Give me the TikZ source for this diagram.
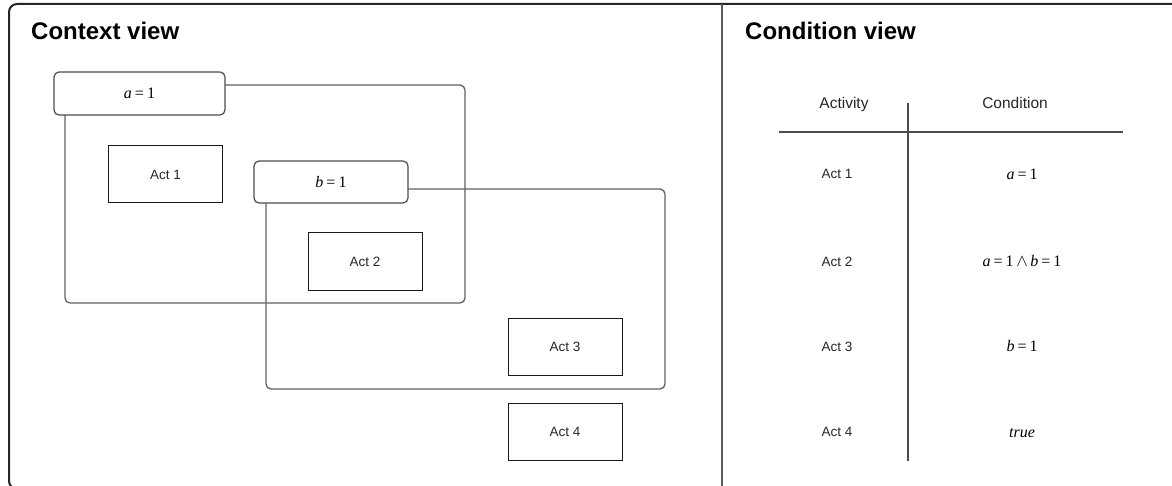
\documentclass[tikz,border=0pt]{standalone}
\usepackage{fontspec}
\setmainfont{Liberation Serif}
\setsansfont{Liberation Sans}

\newcommand\titlefont{\sffamily\bfseries\fontsize{24}{28}\selectfont}
\newcommand\actfont{\sffamily\fontsize{13.5}{16}\selectfont}
\newcommand\headfont{\sffamily\fontsize{15.5}{18}\selectfont}
\newcommand\cndfont{\rmfamily\fontsize{16}{18}\selectfont}
% a condition such as  a = 1
\newcommand\eqone[1]{\textit{#1}\kern3pt=\kern3pt1}

\begin{document}
\begin{tikzpicture}[x=1pt,y=-1pt,
  frame/.style={draw=black!85, line width=2pt, rounded corners=8pt},
  divider/.style={draw=black!65, line width=2pt},
  region/.style={draw=black!62, line width=1.3pt, rounded corners=5pt, inner sep=0pt},
  condlabel/.style={draw=black!70, line width=1.2pt, fill=white, rounded corners=5pt,
    inner sep=0pt, font=\cndfont},
  actbox/.style={draw=black!90, line width=1pt, minimum width=114pt, minimum height=57pt,
    inner sep=0pt, font=\actfont, text=black!85},
  title/.style={anchor=base west, inner sep=0pt, font=\titlefont},
  head/.style={anchor=base, inner sep=0pt, font=\headfont, text=black!85},
  cell/.style={anchor=base, inner sep=0pt, font=\actfont, text=black!85},
  cond/.style={anchor=base, inner sep=0pt, font=\cndfont},
  rule/.style={draw=black!70, line width=1.2pt}
]
\useasboundingbox (0,0) rectangle (1172,486);

% outer frame, running past the right and bottom edges
\begin{scope}
  \clip (0,0) rectangle (1172,486);
  \draw[frame] (9,4) rectangle (1200,489);
\end{scope}
\coordinate (divtop) at (722,4);
\coordinate (divbot) at (722,486);
\draw[divider] (divtop) -- (divbot);

% ---------------- context view ----------------
\node[title] (ctxtitle) at (31,40) {Context view};

\node[region, minimum width=400pt, minimum height=218pt] (regA) at (265,194) {};
\node[region, minimum width=399pt, minimum height=200pt] (regB) at (465.5,289) {};

\node[condlabel, minimum width=171pt, minimum height=43pt] (labA) at (139.5,93.5) {\eqone{a}};
\node[condlabel, minimum width=154pt, minimum height=42pt] (labB) at (331,182) {\eqone{b}};

\node[actbox] (act1) at (165.5,174.5) {Act 1};
\node[actbox] (act2) at (365,261.5) {Act 2};
\node[actbox] (act3) at (565,346.5) {Act 3};
\node[actbox] (act4) at (565,432) {Act 4};

% ---------------- condition view ----------------
\node[title] (cndtitle) at (745,40) {Condition view};

\node[head] (hAct) at (844,109) {Activity};
\node[head] (hCnd) at (1015,109) {Condition};

\coordinate (hl) at (779,132);
\coordinate (hr) at (1123,132);
\coordinate (vt) at (908,103);
\coordinate (vb) at (908,461);
\draw[rule] (hl) -- (hr);
\draw[rule] (vt) -- (vb);

\node[cell] (r1) at (837,179) {Act 1};
\node[cell] (r2) at (837,266) {Act 2};
\node[cell] (r3) at (837,351) {Act 3};
\node[cell] (r4) at (837,436) {Act 4};

\node[cond] (c1) at (1022,180) {\eqone{a}};
\node[cond] (c2) at (1022,266) {\eqone{a}\kern2.5pt$\wedge$\kern2.5pt\eqone{b}};
\node[cond] (c3) at (1022,351) {\eqone{b}};
\node[cond] (c4) at (1022,437) {\textit{true}};
\end{tikzpicture}
\end{document}
